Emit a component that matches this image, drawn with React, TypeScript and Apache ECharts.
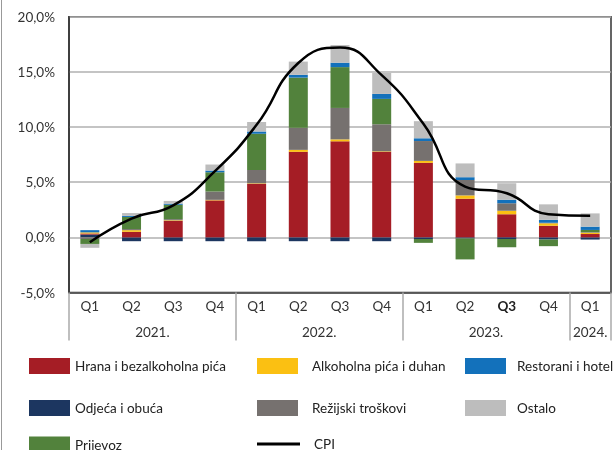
import React, { useEffect, useRef } from "react";
import * as echarts from "echarts";

const quarters = ["Q1", "Q2", "Q3", "Q4", "Q1", "Q2", "Q3", "Q4", "Q1", "Q2", "Q3", "Q4", "Q1"];
const yearLabels: Record<string, string> = { "2": "2021.", "6": "2022.", "10": "2023.", "12.5": "2024." };

const odjeca = [0.25, -0.35, -0.35, -0.35, -0.35, -0.35, -0.35, -0.35, -0.15, -0.1, -0.15, -0.2, -0.2];
const hrana = [0.1, 0.5, 1.5, 3.35, 4.85, 7.75, 8.7, 7.75, 6.75, 3.5, 2.1, 1.05, 0.3];
const alkohol = [0.1, 0.15, 0.05, 0.05, 0.05, 0.18, 0.18, 0.05, 0.18, 0.3, 0.3, 0.22, 0.12];
const rezijski = [-0.15, 0.1, 0.1, 0.75, 1.2, 2.0, 2.85, 2.45, 1.8, 1.4, 0.7, 0.05, 0.05];
const prijevoz = [-0.45, 1.1, 1.3, 1.75, 3.3, 4.55, 3.7, 2.3, -0.35, -1.9, -0.75, -0.6, 0.2];
const restorani = [0.2, 0.1, 0.1, 0.15, 0.2, 0.25, 0.4, 0.45, 0.25, 0.25, 0.3, 0.27, 0.3];
const ostalo = [-0.35, 0.25, 0.25, 0.55, 0.85, 1.2, 1.6, 1.9, 1.55, 1.25, 1.5, 1.4, 1.2];
const cpi = [-0.45, 1.7, 2.9, 6.0, 10.2, 15.8, 17.2, 14.7, 10.3, 4.6, 4.0, 2.1, 1.95];

const FONT = "Lato";

export default function App() {
  const ref = useRef<HTMLDivElement>(null);
  useEffect(() => {
    if (!ref.current) return;
    const chart = echarts.init(ref.current, undefined, { renderer: "svg" });
    const bar = (name: string, data: number[], color: string) => ({
      name,
      type: "bar",
      stack: "a",
      data,
      barWidth: 19,
      itemStyle: { color },
    });
    const legendItem = (name: string, left: number, top: number, gap: number) => ({
      left,
      top,
      padding: 0,
      itemWidth: 41,
      itemHeight: 16,
      icon: "rect",
      data: [name],
      selectedMode: false,
      textStyle: { fontFamily: FONT, fontSize: 13.5, color: "#222", padding: [0, 0, 0, gap] },
    });
    chart.setOption({
      animation: false,
      textStyle: { fontFamily: FONT },
      grid: {
        left: 69,
        right: -3,
        top: 16.7,
        bottom: 157.5,
        show: true,
        borderColor: "#333",
        borderWidth: 1.5,
      },
      xAxis: [
        {
          type: "category",
          data: quarters,
          position: "bottom",
          axisLine: { show: true, onZero: false, lineStyle: { color: "#444", width: 1.5 } },
          axisTick: {
            show: true,
            length: 48,
            interval: (i: number) => i % 4 === 0,
            lineStyle: { color: "#aaa", width: 1.5 },
          },
          axisLabel: {
            interval: 0,
            margin: 6,
            fontFamily: FONT,
            fontSize: 13.5,
            color: "#333",
            formatter: (v: string, i: number) => (i === 10 ? "{b|" + v + "}" : v),
            rich: { b: { fontWeight: "bold", fontFamily: FONT, fontSize: 13.5, color: "#222" } },
          },
        },
        {
          type: "value",
          min: 0,
          max: 13,
          interval: 0.5,
          position: "bottom",
          axisLine: { show: false, onZero: false },
          axisTick: { show: false },
          splitLine: { show: false },
          axisLabel: {
            margin: 32,
            fontFamily: FONT,
            fontSize: 13.5,
            color: "#333",
            showMinLabel: true,
            showMaxLabel: true,
            formatter: (v: number) => yearLabels[String(v)] || "",
          },
        },
      ],
      yAxis: {
        type: "value",
        min: -5,
        max: 20,
        interval: 5,
        axisLine: { show: true, lineStyle: { color: "#333", width: 1.5 } },
        axisTick: { show: false },
        splitLine: { lineStyle: { color: "#b0b0b0", width: 1.5 } },
        axisLabel: {
          margin: 14,
          fontFamily: FONT,
          fontSize: 13.5,
          color: "#333",
          padding: [6, 0, 0, 0],
          formatter: (v: number) => v.toFixed(1).replace(".", ",") + "%",
        },
      },
      legend: [
        legendItem("Hrana i bezalkoholna pića", 29, 358, 0),
        legendItem("Alkoholna pića i duhan", 257, 358, 9),
        legendItem("Restorani i hotel", 465, 358, 6),
        legendItem("Odjeća i obuća", 29, 400, 0),
        legendItem("Režijski troškovi", 257, 400, 9),
        legendItem("Ostalo", 465, 400, 6),
        legendItem("Prijevoz", 29, 436.5, 0),
        {
          left: 257,
          top: 437,
          padding: 0,
          itemWidth: 43,
          itemHeight: 3,
          icon: "rect",
          data: ["CPI"],
          selectedMode: false,
          itemStyle: { color: "#000" },
          textStyle: { fontFamily: FONT, fontSize: 13.5, color: "#222", padding: [0, 0, 0, 9] },
        },
      ],
      graphic: [
        { type: "line", shape: { x1: 1.5, y1: 0, x2: 1.5, y2: 450 }, style: { stroke: "#999", lineWidth: 1 } },
      ],
      series: [
        bar("Odjeća i obuća", odjeca, "#1c3660"),
        bar("Hrana i bezalkoholna pića", hrana, "#a51d25"),
        bar("Alkoholna pića i duhan", alkohol, "#fbc012"),
        bar("Režijski troškovi", rezijski, "#76716f"),
        bar("Prijevoz", prijevoz, "#52823c"),
        bar("Restorani i hotel", restorani, "#1371bb"),
        bar("Ostalo", ostalo, "#bdbdbd"),
        {
          name: "CPI",
          type: "line",
          data: cpi,
          smooth: 0.5,
          symbol: "none",
          z: 10,
          lineStyle: { color: "#000", width: 2.5 },
          itemStyle: { color: "#000" },
        },
      ],
    });
    return () => chart.dispose();
  }, []);
  return <div ref={ref} style={{ position: "fixed", left: 0, top: 0, width: 614, height: 450 }} />;
}
